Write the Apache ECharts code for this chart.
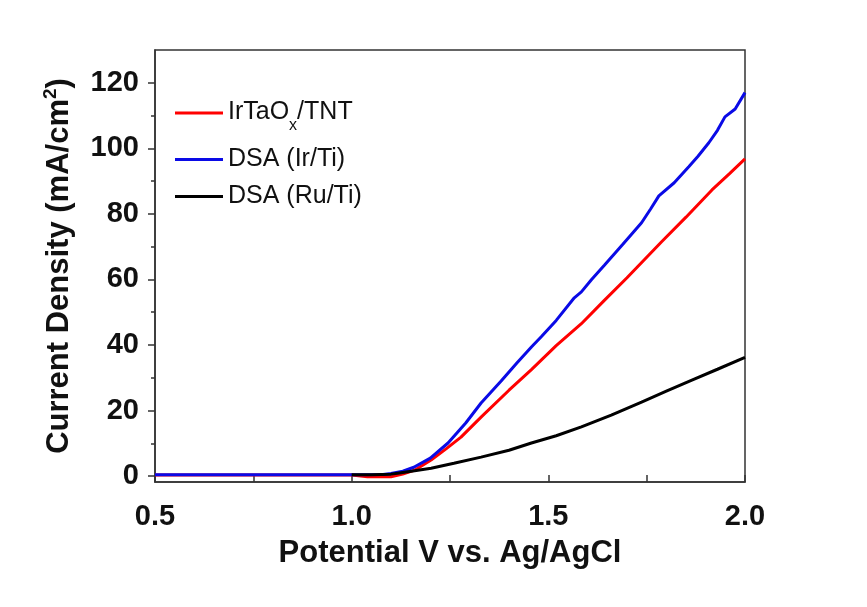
<!DOCTYPE html>
<html>
<head>
<meta charset="utf-8">
<script src="https://cdn.jsdelivr.net/npm/echarts@6/dist/echarts.min.js"></script>
<style>html,body{margin:0;padding:0;background:#fff}#c{width:867px;height:607px}</style>
</head>
<body>
<div id="c"></div>
<script>
// Potential (V vs Ag/AgCl) and current density (mA/cm2)
const irTaPotential = [0.50, 0.70, 0.90, 1.00, 1.04, 1.10, 1.13, 1.16, 1.202, 1.24, 1.278, 1.329, 1.40, 1.457, 1.52, 1.584, 1.643, 1.70, 1.788, 1.85, 1.916, 1.96, 2.00];
const irTaCurrent   = [0.3, 0.3, 0.3, 0.3, -0.2, -0.2, 0.6, 1.8, 4.9, 8.3, 11.9, 18.0, 26.2, 32.5, 39.8, 46.5, 53.7, 60.5, 71.5, 79.0, 87.3, 92.2, 96.8];

const irTiPotential = [0.50, 0.70, 0.90, 1.00, 1.08, 1.10, 1.13, 1.158, 1.20, 1.245, 1.29, 1.329, 1.38, 1.42, 1.457, 1.482, 1.52, 1.566, 1.584, 1.61, 1.643, 1.69, 1.737, 1.76, 1.781, 1.82, 1.857, 1.88, 1.908, 1.93, 1.949, 1.975, 2.00];
const irTiCurrent   = [0.4, 0.4, 0.4, 0.4, 0.5, 0.8, 1.5, 2.7, 5.5, 10.1, 16.2, 22.3, 29.0, 34.5, 39.4, 42.5, 47.5, 54.4, 56.2, 60.0, 64.4, 70.8, 77.3, 81.5, 85.5, 89.5, 94.4, 97.5, 101.7, 105.5, 109.6, 112.0, 117.0];

const ruTiPotential = [1.00, 1.05, 1.10, 1.117, 1.16, 1.202, 1.26, 1.329, 1.40, 1.457, 1.52, 1.584, 1.66, 1.737, 1.80, 1.865, 1.93, 2.00];
const ruTiCurrent   = [0.4, 0.4, 0.6, 0.9, 1.6, 2.4, 3.9, 5.8, 7.9, 10.1, 12.3, 15.0, 18.6, 22.6, 25.9, 29.3, 32.6, 36.2];

const xTicks = [0.5, 1.0, 1.5, 2.0];
const yMajorTicks = [0, 20, 40, 60, 80, 100, 120];
const yMinorTicks = [10, 30, 50, 70, 90, 110];

const seriesNames = ['IrTaOx/TNT', 'DSA (Ir/Ti)', 'DSA (Ru/Ti)'];

function pairs(xs, ys) { return xs.map((x, i) => [x, ys[i]]); }

const chart = echarts.init(document.getElementById('c'));
const font = 'Liberation Sans, Arial, sans-serif';
const axisColor = '#333';

function legendAt(top, name, formatter) {
  return {
    left: 170, top: top, orient: 'vertical',
    data: [name], itemWidth: 48, itemHeight: 3, icon: 'rect',
    selectedMode: false,
    formatter: formatter,
    textStyle: {
      fontFamily: font, fontSize: 25, color: '#111',
      rich: {
        a: { fontFamily: font, fontSize: 25, color: '#111', lineHeight: 26, verticalAlign: 'top' },
        s: { fontFamily: font, fontSize: 16, color: '#111', lineHeight: 16, verticalAlign: 'top', padding: [18, 0, 0, 0] }
      }
    }
  };
}

chart.setOption({
  backgroundColor: '#fff',
  animation: false,
  grid: { left: 155, right: 122, top: 50, bottom: 125, show: true, borderColor: axisColor, borderWidth: 1.5, backgroundColor: 'transparent' },
  legend: [
    legendAt(95, seriesNames[0], () => '{a|IrTaO}{s|x}{a|/TNT}'),
    legendAt(142, seriesNames[1]),
    legendAt(179, seriesNames[2])
  ],
  xAxis: {
    type: 'value', min: 0.5, max: 2.0, interval: 0.5,
    name: 'Potential V vs. Ag/AgCl', nameLocation: 'middle', nameGap: 56,
    nameTextStyle: { fontFamily: font, fontSize: 31, fontWeight: 'bold', color: '#111' },
    axisLine: { show: true, onZero: false, lineStyle: { color: axisColor, width: 1.5 } },
    axisTick: { show: true, inside: true, length: 7, lineStyle: { color: axisColor, width: 1.5 } },
    minorTick: { show: true, splitNumber: 2, length: 7, lineStyle: { color: axisColor, width: 1.5 } },
    axisLabel: { margin: 20, fontFamily: font, fontSize: 29, fontWeight: 'bold', color: '#111',
      customValues: xTicks, formatter: v => v.toFixed(1) },
    splitLine: { show: false }
  },
  yAxis: [{
    type: 'value', min: -1.8, max: 130,
    name: '{a|Current Density (mA/cm}{s|2}{a|)}', nameLocation: 'middle', nameGap: 80, nameRotate: 90,
    nameTextStyle: {
      fontFamily: font, fontSize: 31, fontWeight: 'bold', color: '#111',
      rich: {
        a: { fontFamily: font, fontSize: 31, fontWeight: 'bold', color: '#111', lineHeight: 34, verticalAlign: 'bottom' },
        s: { fontFamily: font, fontSize: 19, fontWeight: 'bold', color: '#111', lineHeight: 19, verticalAlign: 'top', padding: [0, 0, 15, 0] }
      }
    },
    axisLine: { show: true, onZero: false, lineStyle: { color: axisColor, width: 1.5 } },
    axisTick: { show: true, inside: false, length: 7, customValues: yMajorTicks, lineStyle: { color: axisColor, width: 1.5 } },
    axisLabel: { margin: 16, fontFamily: font, fontSize: 29, fontWeight: 'bold', color: '#111', customValues: yMajorTicks },
    splitLine: { show: false }
  }, {
    type: 'value', min: -1.8, max: 130, position: 'left',
    axisLine: { show: false },
    axisTick: { show: true, inside: false, length: 4, customValues: yMinorTicks, lineStyle: { color: axisColor, width: 1.5 } },
    axisLabel: { show: false, customValues: yMinorTicks },
    splitLine: { show: false }
  }],
  series: [
    { name: seriesNames[0], type: 'line', data: pairs(irTaPotential, irTaCurrent), showSymbol: false, symbol: 'none',
      lineStyle: { color: '#ff0000', width: 3 }, itemStyle: { color: '#ff0000' }, z: 2 },
    { name: seriesNames[1], type: 'line', data: pairs(irTiPotential, irTiCurrent), showSymbol: false, symbol: 'none',
      lineStyle: { color: '#0a0ae6', width: 3 }, itemStyle: { color: '#0a0ae6' }, z: 3 },
    { name: seriesNames[2], type: 'line', data: pairs(ruTiPotential, ruTiCurrent), showSymbol: false, symbol: 'none',
      lineStyle: { color: '#000000', width: 3 }, itemStyle: { color: '#000000' }, z: 4 }
  ]
});
</script>
</body>
</html>
